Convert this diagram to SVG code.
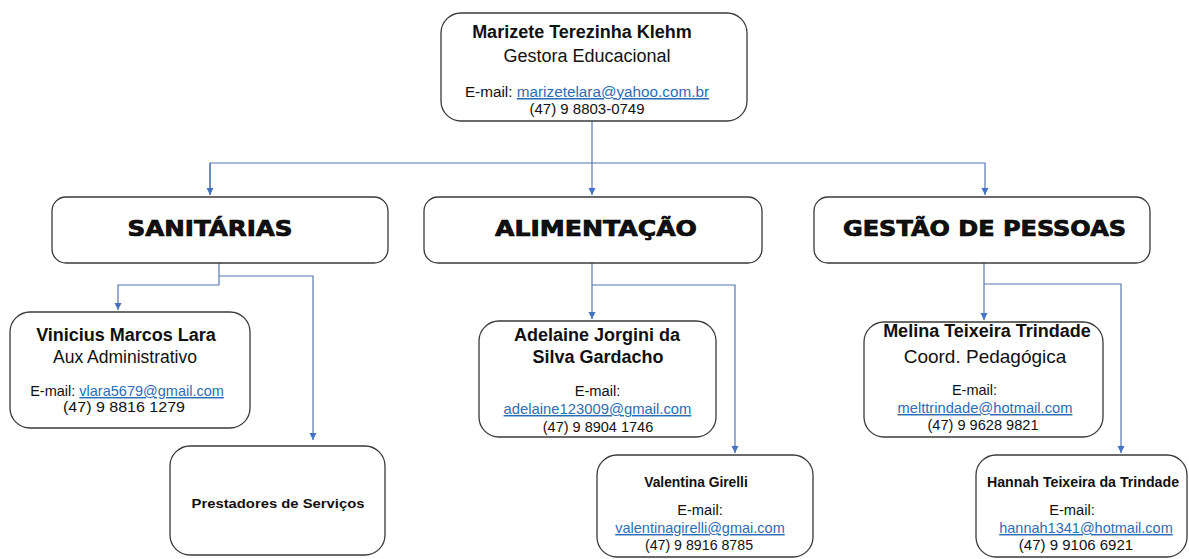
<svg xmlns="http://www.w3.org/2000/svg" width="1189" height="559" viewBox="0 0 1189 559">
<defs>
<marker id="arr" markerUnits="userSpaceOnUse" markerWidth="8" markerHeight="8" refX="7" refY="4" orient="auto">
<path d="M0,0.5 L7,4 L0,7.5 z" fill="#4472C4"/>
</marker>
<style>
.box{fill:#fff;stroke:#3a3a3a;stroke-width:1.3}
.con{fill:none;stroke:#5577b0;stroke-width:1.2}
text{font-family:"Liberation Sans",Arial,sans-serif;fill:#111;text-anchor:middle}
.hd{font-family:"DejaVu Sans","Liberation Sans",sans-serif;font-weight:bold;font-size:21px;stroke:#000;stroke-width:0.7}
.nm{font-weight:bold}
.lk{fill:#2E6DB4;text-decoration:underline}
</style>
</defs>
<rect width="1189" height="559" fill="#fff"/>
<g id="connectors">
<path class="con" d="M592,121 V195" marker-end="url(#arr)"/>
<path class="con" d="M210,195 V163 H985 V195" marker-end="url(#arr)"/>
<path class="con" d="M210,163 V195" marker-end="url(#arr)"/>
<path class="con" d="M219,263 V285 H118 V310" marker-end="url(#arr)"/>
<path class="con" d="M219,276 H313 V440" marker-end="url(#arr)"/>
<path class="con" d="M592,263 V319" marker-end="url(#arr)"/>
<path class="con" d="M592,285 H735 V453" marker-end="url(#arr)"/>
<path class="con" d="M984,263 V320" marker-end="url(#arr)"/>
<path class="con" d="M984,284 H1121 V453" marker-end="url(#arr)"/>
</g>
<g id="node-marizete">
<rect class="box" x="441" y="13" width="306" height="108" rx="20"/>
<text class="nm" x="582" y="38" font-size="18">Marizete Terezinha Klehm</text>
<text x="587" y="62" font-size="18">Gestora Educacional</text>
<text x="587" y="97" font-size="15.3">E-mail: <tspan class="lk">marizetelara@yahoo.com.br</tspan></text>
<text x="587" y="114" font-size="15">(47) 9 8803-0749</text>
</g>
<g id="node-sanitarias">
<rect class="box" x="52" y="197" width="336" height="66" rx="14"/>
<text class="hd" x="210" y="236" textLength="165" lengthAdjust="spacingAndGlyphs">SANITÁRIAS</text>
</g>
<g id="node-alimentacao">
<rect class="box" x="424" y="197" width="338" height="66" rx="14"/>
<text class="hd" x="596" y="236" textLength="202" lengthAdjust="spacingAndGlyphs">ALIMENTAÇÃO</text>
</g>
<g id="node-gestao">
<rect class="box" x="814" y="197" width="336" height="66" rx="14"/>
<text class="hd" x="984.5" y="236" textLength="283" lengthAdjust="spacingAndGlyphs">GESTÃO DE PESSOAS</text>
</g>
<g id="node-vinicius">
<rect class="box" x="10" y="312" width="240" height="116" rx="20"/>
<text class="nm" x="126" y="341" font-size="18">Vinicius Marcos Lara</text>
<text x="125" y="363" font-size="17.5">Aux Administrativo</text>
<text x="127" y="396" font-size="14.5">E-mail: <tspan class="lk">vlara5679@gmail.com</tspan></text>
<text x="124" y="412" font-size="14.5" textLength="122" lengthAdjust="spacingAndGlyphs">(47) 9 8816 1279</text>
</g>
<g id="node-prestadores">
<rect class="box" x="170" y="446" width="215" height="109" rx="20"/>
<text class="nm" x="278" y="508" font-size="13.5" textLength="173" lengthAdjust="spacingAndGlyphs">Prestadores de Serviços</text>
</g>
<g id="node-adelaine">
<rect class="box" x="479" y="321" width="237" height="116" rx="20"/>
<text class="nm" x="597" y="341" font-size="18">Adelaine Jorgini da</text>
<text class="nm" x="598" y="363" font-size="18">Silva Gardacho</text>
<text x="597.5" y="396" font-size="14.7">E-mail:</text>
<text class="lk" x="597.5" y="414" font-size="14.8">adelaine123009@gmail.com</text>
<text x="598" y="432" font-size="14.5">(47) 9 8904 1746</text>
</g>
<g id="node-valentina">
<rect class="box" x="597" y="455" width="216" height="102" rx="20"/>
<text class="nm" x="696" y="487" font-size="13.8">Valentina Girelli</text>
<text x="700" y="515" font-size="14.7">E-mail:</text>
<text class="lk" x="700" y="533" font-size="14.5">valentinagirelli@gmai.com</text>
<text x="699" y="550" font-size="14.2">(47) 9 8916 8785</text>
</g>
<g id="node-melina">
<rect class="box" x="864" y="322" width="239" height="115" rx="20"/>
<text class="nm" x="987" y="337" font-size="18">Melina Teixeira Trindade</text>
<text x="985" y="363" font-size="19">Coord. Pedagógica</text>
<text x="974.5" y="395" font-size="14.5">E-mail:</text>
<text class="lk" x="985" y="413" font-size="14.7">melttrindade@hotmail.com</text>
<text x="983" y="430" font-size="14.6">(47) 9 9628 9821</text>
</g>
<g id="node-hannah">
<rect class="box" x="976" y="455" width="211" height="102" rx="20"/>
<text class="nm" x="1083" y="487" font-size="14.2">Hannah Teixeira da Trindade</text>
<text x="1072" y="515" font-size="14.7">E-mail:</text>
<text class="lk" x="1086" y="533" font-size="14.5">hannah1341@hotmail.com</text>
<text x="1076" y="550" font-size="15">(47) 9 9106 6921</text>
</g>
</svg>
